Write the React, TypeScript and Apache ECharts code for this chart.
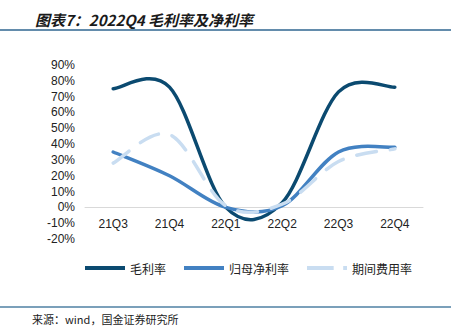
import React, { useEffect, useRef } from "react";
import * as echarts from "echarts";

const categories = ["21Q3", "21Q4", "22Q1", "22Q2", "22Q3", "22Q4"];
const grossMargin = [75, 76, 0, 3, 73, 76];
const netMargin = [35, 20, 0, 1, 35, 38];
const expenseRate = [28, 46, 1, 2, 29, 37];
const seriesNames = ["毛利率", "归母净利率", "期间费用率"];
const title = "图表7：2022Q4 毛利率及净利率";
const source = "来源：wind，国金证券研究所";

function makeRender(values: number[], color: string, width: number, dash?: number[]) {
  return (params: any, api: any) => {
    if (params.dataIndex !== 0) return null;
    const pts = values.map((v, i) => api.coord([i, v]));
    let d = `M${pts[0][0]},${pts[0][1]}`;
    for (let i = 0; i < pts.length - 1; i++) {
      const p0 = pts[i - 1] || pts[i];
      const p1 = pts[i];
      const p2 = pts[i + 1];
      const p3 = pts[i + 2] || pts[i + 1];
      const c1x = p1[0] + (p2[0] - p0[0]) / 6;
      const c1y = p1[1] + (p2[1] - p0[1]) / 6;
      const c2x = p2[0] - (p3[0] - p1[0]) / 6;
      const c2y = p2[1] - (p3[1] - p1[1]) / 6;
      d += ` C${c1x},${c1y} ${c2x},${c2y} ${p2[0]},${p2[1]}`;
    }
    return {
      type: "path",
      shape: { pathData: d },
      style: {
        fill: "none",
        stroke: color,
        lineWidth: width,
        lineDash: dash,
        lineCap: "round",
      },
    };
  };
}

export default function App() {
  const ref = useRef<HTMLDivElement>(null);
  useEffect(() => {
    if (!ref.current) return;
    const chart = echarts.init(ref.current, undefined, { renderer: "svg" });
    const font = "Liberation Sans, Arial, sans-serif";
    const colors = ["#0b4a70", "#4281c2", "#c9ddf1"];
    const toData = (vals: number[]) => vals.map((v, i) => [i, v]);
    chart.setOption({
      animation: false,
      backgroundColor: "#ffffff",
      title: {
        text: title,
        left: 30,
        top: 7,
        textStyle: {
          fontSize: 15,
          fontStyle: "italic",
          fontWeight: "bold",
          color: "#1a1a1a",
          fontFamily: "Noto Sans CJK SC",
        },
      },
      graphic: [
        { type: "line", shape: { x1: 0, y1: 30, x2: 451, y2: 30 }, style: { stroke: "#2f6690", lineWidth: 1.5 } },
        { type: "line", shape: { x1: 0, y1: 307, x2: 451, y2: 307 }, style: { stroke: "#4f81a3", lineWidth: 1.5 } },
        {
          type: "text",
          left: 32,
          top: 313,
          style: { text: source, fontSize: 11, fill: "#222", fontFamily: "Noto Sans CJK SC" },
        },
      ],
      legend: {
        left: 80,
        top: 257,
        itemWidth: 40,
        itemHeight: 4,
        itemGap: 18,
        symbolKeepAspect: false,
        textStyle: { fontSize: 12, color: "#222", fontFamily: "Noto Sans CJK SC" },
        data: [
          { name: seriesNames[0], icon: "path://M0,0h40v4h-40z", itemStyle: { color: colors[0] } },
          { name: seriesNames[1], icon: "path://M0,0h40v4h-40z", itemStyle: { color: colors[1] } },
          { name: seriesNames[2], icon: "path://M0,0h28v4h-28zM38,0h4v4h-4z", itemStyle: { color: colors[2] } },
        ],
      },
      grid: { left: 85, right: 46, top: 65, bottom: 92 },
      xAxis: {
        type: "category",
        data: categories,
        axisLine: { onZero: true, lineStyle: { color: "#d9d9d9", width: 1 } },
        axisTick: { inside: true, length: 4, lineStyle: { color: "#d9d9d9" } },
        axisLabel: { fontSize: 12, color: "#222", fontFamily: font, margin: -21 },
      },
      yAxis: {
        type: "value",
        min: -20,
        max: 90,
        interval: 10,
        axisLine: { show: false },
        axisTick: { show: false },
        splitLine: { show: false },
        axisLabel: { fontSize: 12, color: "#222", fontFamily: font, margin: 10, formatter: "{value}%" },
      },
      series: [
        {
          name: seriesNames[0],
          type: "custom",
          data: toData(grossMargin),
          encode: { x: 0, y: 1 },
          itemStyle: { color: colors[0] },
          renderItem: makeRender(grossMargin, colors[0], 3.5),
        },
        {
          name: seriesNames[1],
          type: "custom",
          data: toData(netMargin),
          encode: { x: 0, y: 1 },
          itemStyle: { color: colors[1] },
          renderItem: makeRender(netMargin, colors[1], 3.5),
        },
        {
          name: seriesNames[2],
          type: "custom",
          data: toData(expenseRate),
          encode: { x: 0, y: 1 },
          itemStyle: { color: colors[2] },
          renderItem: makeRender(expenseRate, colors[2], 3.5, [20, 14]),
        },
      ],
    });
    return () => chart.dispose();
  }, []);
  return (
    <div
      ref={ref}
      style={{ position: "fixed", left: 0, top: 0, width: 469, height: 331 }}
    />
  );
}
